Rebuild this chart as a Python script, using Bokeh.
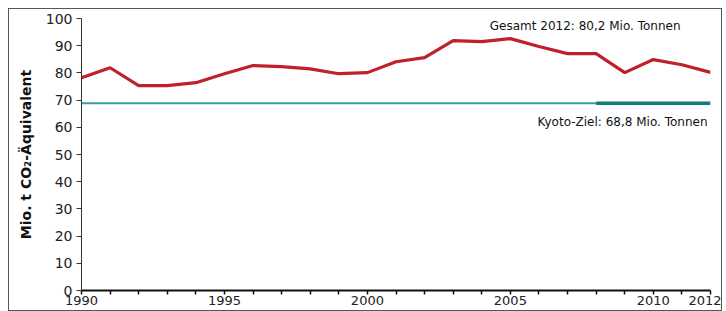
from bokeh.plotting import figure
from bokeh.models import Label, FixedTicker, Range1d
from bokeh.embed import file_html
from bokeh.resources import INLINE

years = list(range(1990, 2013))
emissions = [78.2, 81.9, 75.3, 75.3, 76.4, 79.7, 82.7, 82.3, 81.5, 79.7, 80.1,
             84.1, 85.6, 91.9, 91.5, 92.6, 89.7, 87.1, 87.1, 80.1, 84.9, 83.0, 80.2]
kyoto_target = 68.8
kyoto_period_start = 2008
labeled_years = [1990, 1995, 2000, 2005, 2010, 2012]
y_ticks = list(range(0, 101, 10))

FONT = "DejaVu Sans"

p = figure(width=714, height=303, output_backend="svg", toolbar_location=None,
           x_range=Range1d(1990, 2012), y_range=Range1d(0, 100),
           min_border_left=72, min_border_right=13, min_border_top=9, min_border_bottom=22)
p.styles = {"border": "1px solid #555555", "box-sizing": "border-box",
            "margin-left": "8px", "margin-top": "8px"}
p.outline_line_color = None
p.xgrid.visible = False
p.ygrid.visible = False

# Kyoto target line
p.line([years[0], kyoto_period_start], [kyoto_target, kyoto_target], line_color="#3a9c9c", line_width=2)
p.line([kyoto_period_start, years[-1]], [kyoto_target, kyoto_target], line_color="#127b78", line_width=3.5)

# Emissions
p.line(years, emissions, line_color="#c0202a", line_width=3.2)

# Axes
p.xaxis.ticker = FixedTicker(ticks=years)
p.xaxis.major_label_overrides = {y: (str(y) if y in labeled_years else "") for y in years}
p.xaxis.axis_line_color = "#111111"
p.xaxis.axis_line_width = 2
p.xaxis.major_tick_line_color = "#111111"
p.xaxis.major_tick_line_width = 1.5
p.xaxis.major_tick_in = 0
p.xaxis.major_tick_out = 4
p.xaxis.minor_tick_line_color = None
p.xaxis.major_label_standoff = 1
p.xaxis.major_label_text_font = FONT
p.xaxis.major_label_text_font_size = "13px"
p.xaxis.major_label_text_color = "#222222"

p.yaxis.ticker = FixedTicker(ticks=y_ticks)
p.yaxis.axis_line_color = "#333333"
p.yaxis.axis_line_width = 1
p.yaxis.major_tick_line_color = "#333333"
p.yaxis.major_tick_in = 0
p.yaxis.major_tick_out = 5
p.yaxis.minor_tick_line_color = None
p.yaxis.major_label_standoff = 4
p.yaxis.major_label_text_font = FONT
p.yaxis.major_label_text_font_size = "14px"
p.yaxis.major_label_text_color = "#222222"
p.yaxis.axis_label = "Mio. t CO\u2082-\u00c4quivalent"
p.yaxis.axis_label_text_font = FONT
p.yaxis.axis_label_text_font_style = "bold"
p.yaxis.axis_label_text_font_size = "14px"
p.yaxis.axis_label_text_color = "#111111"
p.yaxis.axis_label_standoff = 9

p.add_layout(Label(x=2012, y=100, x_offset=-30, y_offset=0, text="Gesamt 2012: 80,2 Mio. Tonnen",
                   text_align="right", text_baseline="top", text_font=FONT,
                   text_font_size="12px", text_color="#111111"))
p.add_layout(Label(x=2012, y=62.0, x_offset=-3, text="Kyoto-Ziel: 68,8 Mio. Tonnen",
                   text_align="right", text_baseline="middle", text_font=FONT,
                   text_font_size="12px", text_color="#111111"))

open("out.html", "w").write(file_html(p, INLINE))
